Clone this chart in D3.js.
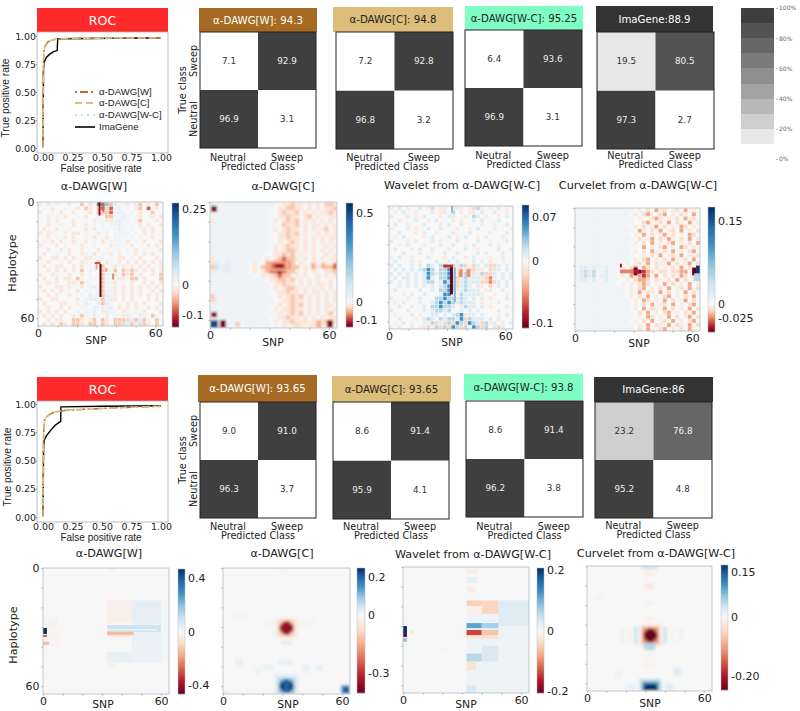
<!DOCTYPE html>
<html>
<head>
<meta charset="utf-8">
<script src="https://cdn.jsdelivr.net/npm/d3@7"></script>
<style>
  html, body { margin: 0; padding: 0; background: #fff; }
  text { font-family: "DejaVu Sans", sans-serif; fill: #222; }
  text.sans { font-family: "Liberation Sans", sans-serif; }
</style>
</head>
<body>
<div id="chart-area"></div>
<script>
// ---- ROC data ----
const rocSeriesNames = ["α-DAWG[W]", "α-DAWG[C]", "α-DAWG[W-C]", "ImaGene"];
const rocTicks = [0, 0.25, 0.5, 0.75, 1];

const fprTop = [0, 0.003, 0.006, 0.01, 0.02, 0.04, 0.07, 0.1, 0.2, 0.4, 0.7, 1];
const tprTopW = [0, 0.72, 0.82, 0.87, 0.91, 0.945, 0.96, 0.97, 0.977, 0.98, 0.982, 0.985];
const tprTopC = [0, 0.74, 0.83, 0.88, 0.92, 0.95, 0.962, 0.971, 0.977, 0.98, 0.982, 0.985];
const tprTopWC = [0, 0.75, 0.84, 0.89, 0.925, 0.95, 0.965, 0.972, 0.978, 0.98, 0.983, 0.986];
const fprTopImg = [0, 0.004, 0.008, 0.015, 0.03, 0.06, 0.09, 0.12, 0.125, 0.4, 1];
const tprTopImg = [0, 0.68, 0.76, 0.78, 0.81, 0.84, 0.86, 0.87, 0.975, 0.978, 0.985];

const fprBottom = [0, 0.003, 0.006, 0.012, 0.03, 0.06, 0.1, 0.2, 0.4, 0.7, 1];
const tprBottomW = [0, 0.6, 0.75, 0.85, 0.885, 0.91, 0.93, 0.945, 0.955, 0.97, 0.98];
const tprBottomC = [0, 0.6, 0.76, 0.85, 0.89, 0.915, 0.93, 0.946, 0.956, 0.97, 0.98];
const tprBottomWC = [0, 0.61, 0.76, 0.86, 0.89, 0.915, 0.932, 0.947, 0.957, 0.971, 0.981];
const fprBottomImg = [0, 0.005, 0.01, 0.03, 0.06, 0.1, 0.14, 0.15, 0.152, 0.5, 1];
const tprBottomImg = [0, 0.6, 0.68, 0.72, 0.76, 0.81, 0.84, 0.845, 0.975, 0.98, 0.985];

// ---- confusion matrix data: neutral->neutral, neutral->sweep, sweep->neutral, sweep->sweep ----
const cmClasses = ["Neutral", "Sweep"];
const cmTitlesTop = ["α-DAWG[W]: 94.3", "α-DAWG[C]: 94.8", "α-DAWG[W-C]: 95.25", "ImaGene:88.9"];
const cmValuesTop = [["96.9", "3.1", "7.1", "92.9"], ["96.8", "3.2", "7.2", "92.8"], ["96.9", "3.1", "6.4", "93.6"], ["97.3", "2.7", "19.5", "80.5"]];
const cmTitlesBottom = ["α-DAWG[W]: 93.65", "α-DAWG[C]: 93.65", "α-DAWG[W-C]: 93.8", "ImaGene:86"];
const cmValuesBottom = [["96.3", "3.7", "9.0", "91.0"], ["95.9", "4.1", "8.6", "91.4"], ["96.2", "3.8", "8.6", "91.4"], ["95.2", "4.8", "23.2", "76.8"]];

const greyBands = ["#e8e8e8", "#cfcfcf", "#b8b8b8", "#a3a3a3", "#8f8f8f", "#7b7b7b", "#666666", "#525252", "#3f3f3f"];
const greyBandFloors = [10, 20, 30, 40, 50, 60, 70, 80, 90];
const greyTicks = [0, 20, 40, 60, 80, 100];

// ---- saliency maps: coarse grids ----
// a..e = reds (pale to dark), A..E = blues (pale to dark), "." = neutral
const gridTopW = [
"a.a.A..a..b.a.ccDbB.AB.ab.a.b.",
".A.a..A..a.ba.bcCcAB.A.ab.c.a.",
"a..A.a..a...a.bbbcABA.A.a..b..",
"..a.A.a..A.a..A.bbAABA.Aa..a.a",
"A.a.a...a....a.AaaABAA.Ab...a.",
"..a..A..a..a.A.A.AABAAA.a.a..a",
".a..a..A...a.a.AA.ABA.A.Aa.a..",
"a.aA..a.aa.A..a.A.AAAA.A.a.a.A",
"..a.A.a.a..A.a..a.AAA.A.A..a..",
".A.a.a..a..a.A.a.AAA.a.A.a...a",
"a...a.A...a..A...aAAA.a.A.a.a.",
"..a..a.a..a...a.A.AA.A.a.A...a",
".a..A..a..aA.a.AAa.a.A.a.a.a..",
"a..aa.a.a..aa.AA.A.aa.A.a...a.",
"..a..A.a..aAA.b.aA.a.a.a.a.a.a",
".a..aa..a.a.AAAb.Aa.a.a.a.a..a",
"..a.a.a.a.b.AA.bAAb.baba.a.a.a",
"a..aA..a..a.A.AbAAa.bab.a..a.b",
".a..a.aa.bA.AAAbAA.aa.bb.a...b",
"..a.a..aa.bAA.AbAAa.A.a..a.a.a",
"a...aa.a..a.ABAbAAa.a.a.a.a.a.",
".a.a.a...a.AA.BbAAa.a.a.a..a.a",
"..a.a..a..A.BABbBAa.a.a.a.a.a.",
"a..aa....a.ABBAbABa.a.a...a.a.",
".a...aa..A.BA.BbBA.A.a.a.a...a",
"..a..a.a..AA.BABAB.a.a.a..a.a.",
"a.a.a.a..A.A.B.aBAA.aA.A.a...a",
".a.a.a..a.bA.BA.B.A.aBA.BA.b..",
"..a.aa..bba.ab.ba.bbbCBbBbA.b.",
".a.a.ba.bba.bb.ba.bbCBbBCba.b."
];
const gridTopC = [
"BAAAAAAAAAAAAAA..aabaa.a.a.bba",
"AAAAAAAAAAAAAAA.aabbaa.a.a.aab",
"AAAAAAAAAAAAAA..abaab.a.a.aaba",
"AAAAAAAAAAAAAAA.aabaa.ab.a..aa",
"aAAAAAAAAAAAAA.a.abab.a.a.a.a.",
"AAAAAAAAAAAAAAA..baab.a.aa.a.a",
"AAAAAAAAAAAAAA.a.abaa.a.a.ab.a",
"AAAAAAAAAAAAAAA.aabab.a..a.a.a",
"AAAAAAAAAAAAAA..aabaa.a.a.a.aa",
"AAAAAAAAAAAAAAA.a.aba.a.a.a.a.",
"AAAAAAAAAAAAAA.a.abaa.a.a..a.a",
"AAAAAAAAAAAAAA.a.abba.a.a.a.a.",
"AAAAAAAAAAAAA..aabab.a..a..a.a",
"aAAAAAAAAAAA.a.abcbba.a.a.a.aa",
"aBAABAAAA.a..abccdcb.a..a..a.a",
"bCABBAAAA.a.bbcdedcbb.a.ba.bbc",
"aBABBAAAA.a.abccdcbba.a.a..aab",
"AAAAAAAAAA..a.abcbb.a.a..a.a.a",
"AAAAAAAAAAAAA.aabbab.a.a.a..a.",
"AAAAAAAAAAAAAA.aabaa.a.a.aa.a.",
"AAAAAAAAAAAAAA.a.abba.a.a.a.a.",
"AAAAAAAAAAAAAA..aabaa.a.aa.a.a",
"bAAAAAAAAAAAAAA.a.abab.a.a.a.a",
"AAAAAAAAAAAAAAA..aabaa.a.a.a.a",
"AAAAAAAAAAAAAAA.a.abab.a.a.aa.",
"AAAAAAAAAAAAAA.a.aabaa.a.a.a.a",
"AAAAAAAAAAAAAAA.a.abab.a.a.ab.",
"aAAAAAAAAAAAAA..aabaa.a.a.a.aa",
"AAAAAAAAAAAAAA.a.aab.aa.a.ab.a",
"A.a.A.a.AAA.AA.A.a.a.a.aa.aaA."
];
const gridTopWC = [
"a.A.a..A.ab.aa.AAa.abBa.a.A.a.",
".a.A..a...A.aA.B.a.aA.A..A..a.",
"A...A.a.A...a.AA..a.BA.a..a.A.",
"..a...A..a.A...a.a..A.A...A...",
".A..a...A...a.A..A....a..a..A.",
"a...A.a..A..A...a..a.A...A...a",
"..A...a.A..a...A...A....a...A.",
".a.A....a.A...A.a.A..a.A...a..",
"A...a.A...A.a...A....A..a...A.",
"..a.A...a...A..A..a.A...A.a...",
".A...a.A..A...a...A..a....A..a",
"...A...A..a..A..A....A.a...A..",
"a.A..a...A...a.A..a.A...a..A..",
".A...A.a...A..A.A...A.a.A..a..",
"A.A..A.A.BA.BB.BaBb.bA.AbbA.A.",
".A.A.A.ABCB.BBCbabAbbAa.bAA.A.",
"A.A.A.A.ACBABBCBaABaAaBbbA.A.A",
".A.AA.A.ACA.BBCBbABAAAabcA.A.A",
"A.A.A.A.ABB.ACBBbABAAAbbcbA.A.",
"..A.A.A.A.A.ABCBbABA.Aa.b.A.A.",
".A.....A..A.BBCBaABAAA.aA..A..",
"...a.A..A...ACCAaBAAAAa..a..a.",
"A...a..A...BBCBBABA.A.A.a...A.",
".a.A...A..ABCBCBABAAA.a...A...",
"..A..a..A.BBCBBA.aBAA.A.a...a.",
"A...A...A.ABBAB..A.A.A....A...",
".a...A.a..AA.A.ABCAaA.A...a.A.",
"..A...a.ABA.BABBACbBAAA.A.A...",
".a.A.a..AaBbAbBbCBbCBAbBaA.a.A",
"a.A..A.aAbaBbBbCBbBaCBbB.AbA.."
];
const gridTopCurv = [
"AAAAAAAAAAAAAA.a.b.cab.ab.c.a.",
"AAAAAAAAAAAAA.a.bca.bc.a.ba.c.",
"AAAAAAAAAAAAAA.a..bcb.a.b.cab.",
"AAAAAAAAAAAAAA..bc.ab.c.ba.c.a",
"AAAAAAAAAAAAA.a.b.ac.b.a.cb.a.",
"AAAAAAAAAAAAAA.ca.b.c.ab.c.a.b",
"AAAAAAAAAAAAA.a.c.b.ac.b.a.cb.",
"AAAAAAAAAAAAAA.b.ac.b.ca.b.c.a",
"AAAAAAAAAAAAA.a.b.c.a.bc.a.b.c",
"AAAAAAAAAAAAAA..c.a.bc.a.cb.a.",
"AAAAAAAAAAAAA.a.b.ca.b.c.a.bc.",
"AAAAAAAAAAAAAA..a.b.c.ab.c.a.b",
"AAAAAAAAAAAAA.a.bc.a.b.ca.b.c.",
"AAAAAAAAAAA.a.ab.c.ba.c.b.ac.b",
"ABBABAABAA.a.bc.cb.b.a.b.c.b.c",
"ABCBCAABAA.aabdedcb.bb.bbcc.cd",
"ABCBCABBAA.a.cbcdc.c.b.b.cb.bc",
"ABBABAABAA..a.bccb.ba.b.c.b.ab",
"AAAAAAAAAA.a.a.bcb.a.c.b.a.c.a",
"AAAAAAAAAAAA.a.bc.a.b.c.ab.c.b",
"AAAAAAAAAAAA.a.c.ba.c.b.a.c.b.",
"AAAAAAAAAAAA.a.b.c.a.bc.a.b.c.",
"AAAAAAAAAAAAA.a.cb.a.c.b.ac.b.",
"AAAAAAAAAAAAA.a.b.c.ab.c.a.bc.",
"AAAAAAAAAAAAA.a.c.ba.c.b.a.c.b",
"AAAAAAAAAAAAAA.b.c.a.bc.a.b.c.",
"AAAAAAAAAAAAAA.a.cb.a.c.b.ac.b",
"AAAAAAAAAAAAA.a.b.c.ab.c.a.bc.",
"AAAAAAAAAAAAAA.a.c.ba.c.ba.c.b",
"AAAAAAAAAAAAAA.b.ca.bc.a.b.ca."
];

// sharper features on top of the grids: [snpFrom, snpTo, hapFrom, hapTo, value]
const patchesTopW = [
  [31, 32, 0, 3, 0.27], [31, 32, 3, 7, -0.12], [33, 34, 1, 5, -0.08],
  [31.5, 32.5, 32, 49, -0.14], [29, 32, 31, 32, -0.09], [29.5, 30.5, 32, 35, -0.05],
  [34.5, 35.5, 34, 36, -0.06], [38, 39, 37, 40, -0.07]
];
const patchesTopC = [
  [0.5, 3.5, 2, 5, -0.13], [0.5, 3.5, 56, 58.5, -0.13], [0.5, 3, 49, 51, -0.03],
  [0, 4, 60, 64, 0.5], [5, 8, 60, 64, -0.13], [13, 15, 61, 63, -0.04],
  [43, 45, 61, 64, -0.03], [53.5, 56, 60, 64, -0.05], [59, 62, 60, 64, -0.13],
  [28, 40, 30, 35, -0.05], [31, 38, 31, 34, -0.08], [33, 37, 31.5, 33.5, -0.12],
  [62, 64, 31, 34, -0.08], [51, 53, 31, 34, -0.05], [56, 58, 31, 34, -0.05]
];
const patchesTopWC = [
  [31.5, 33, 31, 46, -0.108], [28, 33, 30.5, 32, -0.08], [33.5, 34.5, 32, 50, 0.04],
  [32, 33, 0, 3, 0.04], [36, 38, 33, 37, -0.05], [40, 42, 33, 37, -0.05]
];
const patchesTopCurv = [
  [30, 32, 31, 35, -0.05], [28.5, 33, 32, 34, -0.04], [23, 30, 32, 34, -0.025],
  [23, 24, 29, 31, -0.04], [60, 62, 31, 35, -0.05], [62, 64, 30, 36, 0.17],
  [61, 64, 34, 38, 0.05]
];
const patchesBottomW = [
  [0, 8, 24.4, 40, -0.012], [0, 6, 27, 30, 0.02], [8, 11, 29, 33, -0.012], [0, 2, 30.5, 33.5, 0.468],
  [0, 2, 34, 35, -0.3], [0, 3, 37.5, 39, -0.15],
  [32.5, 45, 16.5, 28, -0.03], [45, 60, 16.5, 28, 0.04], [32.5, 60, 42.6, 48, 0.035], [45, 60, 28, 48, 0.03],
  [32.5, 60, 29, 32.5, 0.1], [32.5, 58, 31, 31.7, 0.015], [32.5, 46, 32.5, 34, -0.15], [32.5, 46, 34, 35, -0.05],
  [32.5, 37, 48, 51, -0.025], [32.5, 37, 0, 2, -0.02], [60, 64, 16.5, 48, 0.012]
];
const patchesBottomC = [
  [6, 10, 23, 26, -0.015], [4, 12, 24, 25, -0.01],
  [26, 38, 25, 36, -0.03], [28, 36, 26.5, 34.5, -0.1], [29.5, 34.5, 28, 33, -0.405], [28.5, 35.5, 29, 32, -0.35], [30.5, 33.5, 27, 34, -0.35],
  [20, 26, 27, 29, -0.02], [38, 46, 27, 29, -0.02],
  [29, 33, 0, 3, -0.02], [29, 35, 37, 39, 0.03], [29, 35, 41, 43, -0.01],
  [6, 10, 46, 50, 0.02], [20, 26, 49, 52, 0.02], [28, 35, 47, 49, 0.03], [40, 44, 49, 53, 0.02], [47, 50, 49, 52, 0.025], [16, 19, 51, 54, 0.015],
  [26, 38, 54, 64, 0.03], [28, 36, 56, 64, 0.1], [29.5, 34.5, 57.5, 62.5, 0.246], [28.5, 35.5, 58.5, 61.5, 0.246], [30.5, 33.5, 56.5, 63.5, 0.2],
  [59.5, 64, 59.5, 64, 0.15], [60.5, 64, 60.5, 64, 0.2], [0, 2, 62, 64, 0.03]
];
const patchesBottomWC = [
  [0, 2, 30, 34, 0.207], [0, 2, 34, 35.5, -0.207], [0, 2, 36, 38, 0.08], [4, 5.5, 32, 34, -0.02],
  [32.3, 64, 17, 64, 0.01], [48.4, 64, 17, 30, 0.025],
  [32.3, 40, 17, 20, -0.05], [40, 48.4, 17, 24, -0.045], [40, 48.4, 24, 28.5, 0.01], [32.3, 40, 20, 24, -0.01],
  [32.3, 40, 28.5, 32, 0.11], [40, 48.4, 28.5, 32, 0.07], [32.3, 48.4, 31, 32, 0.02], [32.3, 40, 32, 34.7, -0.14], [40, 48.4, 32, 34.7, -0.06], [32.3, 48.4, 34.7, 36.4, -0.03],
  [32.3, 40, 44, 48, 0.06], [40, 48.4, 40, 48, 0.03], [32.3, 37, 48, 52.5, -0.03], [32.3, 38, 1, 3.5, -0.015], [32.3, 38, 5, 8, 0.015], [32.3, 37, 10, 12.7, -0.015],
  [32.3, 37, 60, 64, 0.03], [32.3, 37, 53, 57, 0.012], [20, 23, 40, 43, -0.005]
];
const patchesBottomCurv = [
  [28, 36, 0, 1.2, 0.05], [29, 35, 3, 5, -0.02], [29.5, 34.5, 9, 12, -0.03], [30, 34, 18, 20, 0.012], [30, 34, 26, 28, -0.02],
  [27, 38, 30, 41, -0.04], [28.5, 36.5, 31.5, 39.5, -0.12], [30, 35, 33, 38, -0.247], [29, 36, 34, 37, -0.247], [31, 34, 32, 39, -0.247],
  [24, 26, 31, 40, 0.035], [39, 41, 31, 40, 0.035], [21, 23, 32, 39, -0.012], [43, 45, 32, 39, -0.012], [17, 19, 32, 39, 0.012], [47, 49, 32, 39, 0.01],
  [29, 35, 39.5, 43, 0.05], [30, 34, 45, 47, -0.012], [29, 35, 50, 52.5, -0.012], [4, 8, 15, 18, -0.008],
  [44, 48, 52, 56, 0.025], [14, 18, 53, 57, 0.01], [27, 38, 58, 64, 0.05], [28.5, 36.5, 59.5, 64, 0.12], [30, 35, 60.5, 64, 0.173], [29, 36, 61.5, 64, 0.173], [20, 25, 60, 64, 0.012], [40, 44, 60, 64, 0.02]
];

const heatTitles = ["α-DAWG[W]", "α-DAWG[C]", "Wavelet from α-DAWG[W-C]", "Curvelet from α-DAWG[W-C]"];
const heatAxisTicks = [0, 10, 20, 30, 40, 50, 60];
const heatDomains = [[-0.14, 0.27], [-0.139, 0.556], [-0.108, 0.09], [-0.05, 0.175], [-0.468, 0.468], [-0.405, 0.246], [-0.207, 0.207], [-0.247, 0.173]];
const heatBarTicks = [[0.25, 0, -0.1], [0.5, 0, -0.1], [0.07, 0, -0.1], [0.15, 0, -0.025], [0.4, 0, -0.4], [0.2, 0, -0.3], [0.2, 0, -0.2], [0.15, 0, -0.2]];
const heatBarFormats = [d3.format(".2~f"), d3.format(".1~f"), d3.format(".2~f"), d3.format(".3~f"), d3.format(".1~f"), d3.format(".1~f"), d3.format(".1~f"), d => d === 0 ? "0" : d3.format(".2f")(d)];
const heatGrids = [gridTopW, gridTopC, gridTopWC, gridTopCurv, null, null, null, null];
const heatPatches = [patchesTopW, patchesTopC, patchesTopWC, patchesTopCurv, patchesBottomW, patchesBottomC, patchesBottomWC, patchesBottomCurv];
const levelFractions = [0.06, 0.14, 0.3, 0.55, 1];
// how strong one grid level reads in each top panel: [reds, blues]
const levelGains = [[2, 0.7], [2, 0.7], [1.6, 2], [1.3, 0.8]];

// ---- layout, read in page pixels ----
const rocLayouts = [
  { head: [37, 8, 131, 24], box: [37, 32, 131, 121], x: [43, 161], y: [148, 36], xTitleY: 171.5, yTitle: [8.5, 98], legendY: [92, 103, 115, 127] },
  { head: [37, 377, 131, 24], box: [37, 401, 131, 121], x: [43, 161], y: [517, 404], xTitleY: 540.5, yTitle: [11, 467] }
];
const cmLayouts = [
  { head: [199, 8, 118, 24], box: [200, 32, 116, 116], labelY: 157, titleY: 166 },
  { head: [333, 7, 120, 25], box: [336, 32, 117, 117], labelY: 157, titleY: 166, titleDx: -3 },
  { head: [465, 6, 118, 24], box: [465, 30, 117, 116], labelY: 155, titleY: 164 },
  { head: [596, 6, 117, 26], box: [597, 32, 117, 117], labelY: 155, titleY: 164 },
  { head: [198, 375, 119, 27], box: [200, 402, 116, 116], labelY: 526, titleY: 535 },
  { head: [332, 376, 119, 26], box: [333, 402, 116, 117], labelY: 526, titleY: 535 },
  { head: [464, 374, 119, 26], box: [466, 401, 117, 116], labelY: 526, titleY: 535 },
  { head: [594, 377, 119, 25], box: [595, 402, 117, 116], labelY: 525, titleY: 534 }
];
const heatLayouts = [
  { box: [38, 202, 125, 124], bar: [172, 203, 7, 124], titleX: 94, titleY: 186, snp: [96, 340], blur: 0.55, dot: 0.8, hapX: 16, hapY: 263 },
  { box: [210, 202, 127, 126], bar: [346, 203, 7, 124], titleX: 283, titleY: 186, snp: [273, 342], blur: 0.8, dot: 1 },
  { box: [389, 206, 124, 123], bar: [522, 205, 7, 123], titleX: 462, titleY: 185, snp: [452, 342], blur: 0.55, dot: 0.8 },
  { box: [575, 208, 125, 123], bar: [708, 207, 7, 125], titleX: 638, titleY: 185, snp: [639, 343], blur: 0.75, dot: 0.85 },
  { box: [43, 568, 126, 126], bar: [178, 569, 7, 125], titleX: 109, titleY: 553, snp: [103, 704], blur: 0.5, hapX: 17, hapY: 635 },
  { box: [223, 568, 127, 126], bar: [357, 568, 8, 125], titleX: 282, titleY: 553, snp: [288, 704], blur: 1.8 },
  { box: [403, 567, 126, 126], bar: [537, 568, 7, 125], titleX: 473, titleY: 554, snp: [466, 704], blur: 0.5 },
  { box: [587, 566, 125, 125], bar: [721, 565, 7, 125], titleX: 656, titleY: 553, snp: [650, 703], blur: 1.6 }
];

const rocStyles = [
  { color: "#b5722a", dash: "2,3,8,3", width: 1.5 },
  { color: "#dcbf7a", dash: "7,4", width: 1.5 },
  { color: "#9ff5d8", dash: "2,4", width: 1.5 },
  { color: "#000", dash: null, width: 1.4 }
];
const cmHeadColors = ["#a66a22", "#dcbd7a", "#7fffc4", "#333333"];

const rdBu = d3.scaleLinear().domain(d3.range(11).map(k => k / 10)).range(d3.schemeRdBu[11]);

const svg = d3.select("#chart-area").append("svg").attr("width", 800).attr("height", 711);

const rectFrom = (sel, [x, y, w, h]) => sel.attr("x", x).attr("y", y).attr("width", w).attr("height", h);

const drawRoc = (layout, series) => {
  const g = svg.append("g");
  rectFrom(g.append("rect"), layout.head).attr("fill", "#ff2a2a");
  g.append("text").text("ROC").attr("x", layout.head[0] + layout.head[2] / 2).attr("y", layout.head[1] + layout.head[3] / 2 + 4.5)
    .attr("text-anchor", "middle").attr("font-size", 12.5).style("fill", "#fff");

  rectFrom(g.append("rect"), layout.box).attr("fill", "#fff").attr("stroke", "#aaa").attr("stroke-width", 0.8);

  const x = d3.scaleLinear().domain([0, 1]).range(layout.x);
  const y = d3.scaleLinear().domain([0, 1]).range(layout.y);
  const line = d3.line().x(d => x(d[0])).y(d => y(d[1]));

  // ImaGene goes underneath, the dashed curves sit over it
  [3, 2, 0, 1].forEach(i => {
    g.append("path").datum(d3.zip(series[i].fpr, series[i].tpr)).attr("d", line).attr("fill", "none")
      .attr("stroke", rocStyles[i].color).attr("stroke-width", rocStyles[i].width).attr("stroke-dasharray", rocStyles[i].dash);
  });

  const boxBottom = layout.box[1] + layout.box[3];
  const xAxis = d3.axisBottom(x).tickValues(rocTicks).tickFormat(d3.format(".2f")).tickSize(1).tickPadding(0);
  const yAxis = d3.axisLeft(y).tickValues(rocTicks).tickFormat(d3.format(".2f")).tickSize(1).tickPadding(0);
  const xg = g.append("g").attr("transform", `translate(0, ${boxBottom})`).call(xAxis);
  const yg = g.append("g").attr("transform", `translate(${layout.box[0]}, 0)`).call(yAxis);
  [xg, yg].forEach(a => {
    a.select(".domain").remove();
    a.selectAll("line").attr("stroke", "#888");
    a.selectAll("text").attr("font-size", 9.4);
  });

  g.append("text").attr("class", "sans").text("False positive rate").attr("x", (layout.x[0] + layout.x[1]) / 2 - 1).attr("y", layout.xTitleY)
    .attr("text-anchor", "middle").attr("font-size", 10);
  g.append("text").attr("class", "sans").text("True positive rate")
    .attr("transform", `translate(${layout.yTitle[0]}, ${layout.yTitle[1]}) rotate(-90)`)
    .attr("text-anchor", "middle").attr("font-size", 10.3);
};

// legend only lives on the top ROC
const drawRocLegend = (layout) => {
  const g = svg.append("g");
  rocSeriesNames.forEach((name, i) => {
    g.append("line").attr("x1", 75).attr("x2", 95).attr("y1", layout.legendY[i]).attr("y2", layout.legendY[i])
      .attr("stroke", rocStyles[i].color).attr("stroke-width", i === 3 ? 1.6 : 1.8).attr("stroke-dasharray", rocStyles[i].dash);
    g.append("text").attr("class", "sans").text(name).attr("x", 99).attr("y", layout.legendY[i] + 3.3).attr("font-size", 9.6);
  });
};

const greyScale = d3.scaleThreshold().domain(greyBandFloors.concat([101])).range(["#ffffff"].concat(greyBands));

const drawMatrix = (layout, title, values, color, withYLabels) => {
  const g = svg.append("g");
  const [bx, by, bw, bh] = layout.box;
  rectFrom(g.append("rect"), layout.head).attr("fill", color);
  g.append("text").text(title).attr("x", layout.head[0] + layout.head[2] / 2).attr("y", layout.head[1] + layout.head[3] / 2 + 3.5)
    .attr("text-anchor", "middle").attr("font-size", 10.2).style("fill", color === "#333333" || color === "#a66a22" ? "#fff" : "#222");

  const x = d3.scaleBand().domain(cmClasses).range([bx, bx + bw]);
  const y = d3.scaleBand().domain(cmClasses.slice().reverse()).range([by, by + bh]);
  const cells = [["Neutral", "Neutral"], ["Neutral", "Sweep"], ["Sweep", "Neutral"], ["Sweep", "Sweep"]];
  cells.forEach(([truth, pred], i) => {
    const v = +values[i];
    g.append("rect").attr("x", x(pred)).attr("y", y(truth)).attr("width", x.bandwidth()).attr("height", y.bandwidth())
      .attr("fill", greyScale(v));
    g.append("text").text(values[i]).attr("x", x(pred) + x.bandwidth() / 2).attr("y", y(truth) + y.bandwidth() / 2 + 3)
      .attr("text-anchor", "middle").attr("font-size", 8.8).style("fill", v > 60 ? "#eee" : "#333");
  });
  rectFrom(g.append("rect"), layout.box).attr("fill", "none").attr("stroke", "#222").attr("stroke-width", 1);

  cmClasses.forEach(c => {
    g.append("text").text(c).attr("x", x(c) + x.bandwidth() / 2 - (c === "Neutral" ? 1 : 0)).attr("y", layout.labelY + 4)
      .attr("text-anchor", "middle").attr("font-size", 9.7);
  });
  g.append("text").text("Predicted Class").attr("x", bx + bw / 2 + (layout.titleDx || 0)).attr("y", layout.titleY + 4)
    .attr("text-anchor", "middle").attr("font-size", 9.7);

  if (withYLabels) {
    cmClasses.forEach(c => {
      g.append("text").text(c).attr("transform", `translate(${bx - 3}, ${y(c) + y.bandwidth() / 2}) rotate(-90)`)
        .attr("text-anchor", "middle").attr("font-size", 9.7);
    });
    g.append("text").text("True class").attr("transform", `translate(${bx - 14}, ${by + bh / 2}) rotate(-90)`)
      .attr("text-anchor", "middle").attr("font-size", 9.7);
  }
};

const drawGreyBar = () => {
  const g = svg.append("g");
  const y = d3.scaleLinear().domain([0, 100]).range([159, 8]);
  greyBands.forEach((c, i) => {
    const top = Math.round(y(greyBandFloors[i] + 10));
    const bottom = Math.round(y(greyBandFloors[i]));
    g.append("rect").attr("x", 741).attr("width", 33).attr("y", top).attr("height", bottom - top).attr("fill", c);
  });
  const axis = d3.axisRight(y).tickValues(greyTicks).tickFormat(d => d + "%").tickSize(2).tickPadding(1);
  const a = g.append("g").attr("transform", "translate(776, 0)").call(axis);
  a.select(".domain").remove();
  a.selectAll("line").attr("stroke", "#bbb");
  a.selectAll("text").attr("font-size", 6).style("fill", "#666");
};

const drawHeat = (i) => {
  const layout = heatLayouts[i];
  const [bx, by, bw, bh] = layout.box;
  const [vMin, vMax] = heatDomains[i];
  const toUnit = d3.scaleLinear().domain([vMin, 0, vMax]).range([0, 0.5, 1]).clamp(true);
  const color = v => rdBu(toUnit(v));
  const x = d3.scaleLinear().domain([0, 64]).range([bx, bx + bw]);
  const y = d3.scaleLinear().domain([0, 64]).range([by, by + bh]);

  const g = svg.append("g");
  const defs = g.append("defs");
  defs.append("clipPath").attr("id", `clip${i}`).append("rect").attr("x", bx).attr("y", by).attr("width", bw).attr("height", bh);
  defs.append("filter").attr("id", `soft${i}`).attr("x", "-5%").attr("y", "-5%").attr("width", "110%").attr("height", "110%")
    .append("feGaussianBlur").attr("stdDeviation", layout.blur);

  const inner = g.append("g").attr("clip-path", `url(#clip${i})`).append("g").attr("filter", `url(#soft${i})`);
  inner.append("rect").attr("x", x(-4)).attr("y", y(-4)).attr("width", x(68) - x(-4)).attr("height", y(68) - y(-4)).attr("fill", color(0));

  const grid = heatGrids[i];
  if (grid) {
    const hx = d3.scaleBand().domain(d3.range(30)).range([bx, bx + bw]);
    const hy = d3.scaleBand().domain(d3.range(30)).range([by, by + bh]);
    const cw = hx.bandwidth() * layout.dot;
    const ch = hy.bandwidth() * layout.dot;
    const [gainRed, gainBlue] = levelGains[i];
    grid.forEach((row, r) => {
      Array.from(row).forEach((c, k) => {
        if (c === ".") return;
        const lower = c.toLowerCase();
        const frac = levelFractions["abcde".indexOf(lower)];
        const value = c === lower ? frac * gainRed * vMin : frac * gainBlue * vMax;
        inner.append("rect").attr("x", hx(k) + (hx.bandwidth() - cw) / 2).attr("y", hy(r) + (hy.bandwidth() - ch) / 2)
          .attr("width", cw + 0.3).attr("height", ch + 0.3).attr("fill", color(value));
      });
    });
  }
  heatPatches[i].forEach(([s0, s1, h0, h1, v]) => {
    inner.append("rect").attr("x", x(s0)).attr("y", y(h0)).attr("width", x(s1) - x(s0)).attr("height", y(h1) - y(h0)).attr("fill", color(v));
  });

  rectFrom(g.append("rect"), layout.box).attr("fill", "none").attr("stroke", "#b4bcc4").attr("stroke-width", 0.8);

  const fmt = d => d === 0 || d === 60 ? d : "";
  const xAxis = d3.axisBottom(x).tickValues(heatAxisTicks).tickFormat(fmt).tickSize(1.5).tickPadding(1.5);
  const isFirst = i === 0 || i === 4;
  const yAxis = d3.axisLeft(y).tickValues(heatAxisTicks).tickFormat(isFirst ? fmt : "").tickSize(1.5).tickPadding(2);
  const xg = g.append("g").attr("transform", `translate(0, ${by + bh})`).call(xAxis);
  const yg = g.append("g").attr("transform", `translate(${bx}, 0)`).call(yAxis);
  [xg, yg].forEach(a => {
    a.select(".domain").remove();
    a.selectAll("line").attr("stroke", "#aaa");
    a.selectAll("text").attr("font-size", 11);
  });

  g.append("text").text(heatTitles[i % 4]).attr("x", layout.titleX).attr("y", layout.titleY + 4)
    .attr("text-anchor", "middle").attr("font-size", 11.2);
  g.append("text").text("SNP").attr("x", layout.snp[0]).attr("y", layout.snp[1] + 4)
    .attr("text-anchor", "middle").attr("font-size", 10.8);
  if (isFirst) {
    g.append("text").text("Haplotype").attr("transform", `translate(${layout.hapX}, ${layout.hapY}) rotate(-90)`)
      .attr("text-anchor", "middle").attr("font-size", 11.2);
  }

  // colour bar
  const [cx, cy, cw, ch] = layout.bar;
  const barY = d3.scaleLinear().domain([vMin, vMax]).range([cy + ch, cy]);
  d3.range(0, ch).forEach(k => {
    g.append("rect").attr("x", cx).attr("y", cy + k).attr("width", cw).attr("height", 1.2).attr("fill", color(barY.invert(cy + k + 0.5)));
  });
  rectFrom(g.append("rect"), layout.bar).attr("fill", "none").attr("stroke", "#b4bcc4").attr("stroke-width", 0.5);
  const barAxis = d3.axisRight(barY).tickValues(heatBarTicks[i]).tickFormat(heatBarFormats[i]).tickSize(0).tickPadding(3);
  const bg = g.append("g").attr("transform", `translate(${cx + cw}, 0)`).call(barAxis);
  bg.select(".domain").remove();
  bg.selectAll("text").attr("font-size", 11).each(function () {
    d3.select(this).text(d3.select(this).text().replace("−", "-"));
  });
};

const main = () => {
  drawRoc(rocLayouts[0], [
    { fpr: fprTop, tpr: tprTopW }, { fpr: fprTop, tpr: tprTopC }, { fpr: fprTop, tpr: tprTopWC },
    { fpr: fprTopImg, tpr: tprTopImg }
  ]);
  drawRocLegend(rocLayouts[0]);
  drawRoc(rocLayouts[1], [
    { fpr: fprBottom, tpr: tprBottomW }, { fpr: fprBottom, tpr: tprBottomC }, { fpr: fprBottom, tpr: tprBottomWC },
    { fpr: fprBottomImg, tpr: tprBottomImg }
  ]);
  cmValuesTop.forEach((v, i) => drawMatrix(cmLayouts[i], cmTitlesTop[i], v, cmHeadColors[i], i === 0));
  cmValuesBottom.forEach((v, i) => drawMatrix(cmLayouts[i + 4], cmTitlesBottom[i], v, cmHeadColors[i], i === 0));
  drawGreyBar();
  d3.range(8).forEach(drawHeat);
};
window.onload = main;
</script>
</body>
</html>
